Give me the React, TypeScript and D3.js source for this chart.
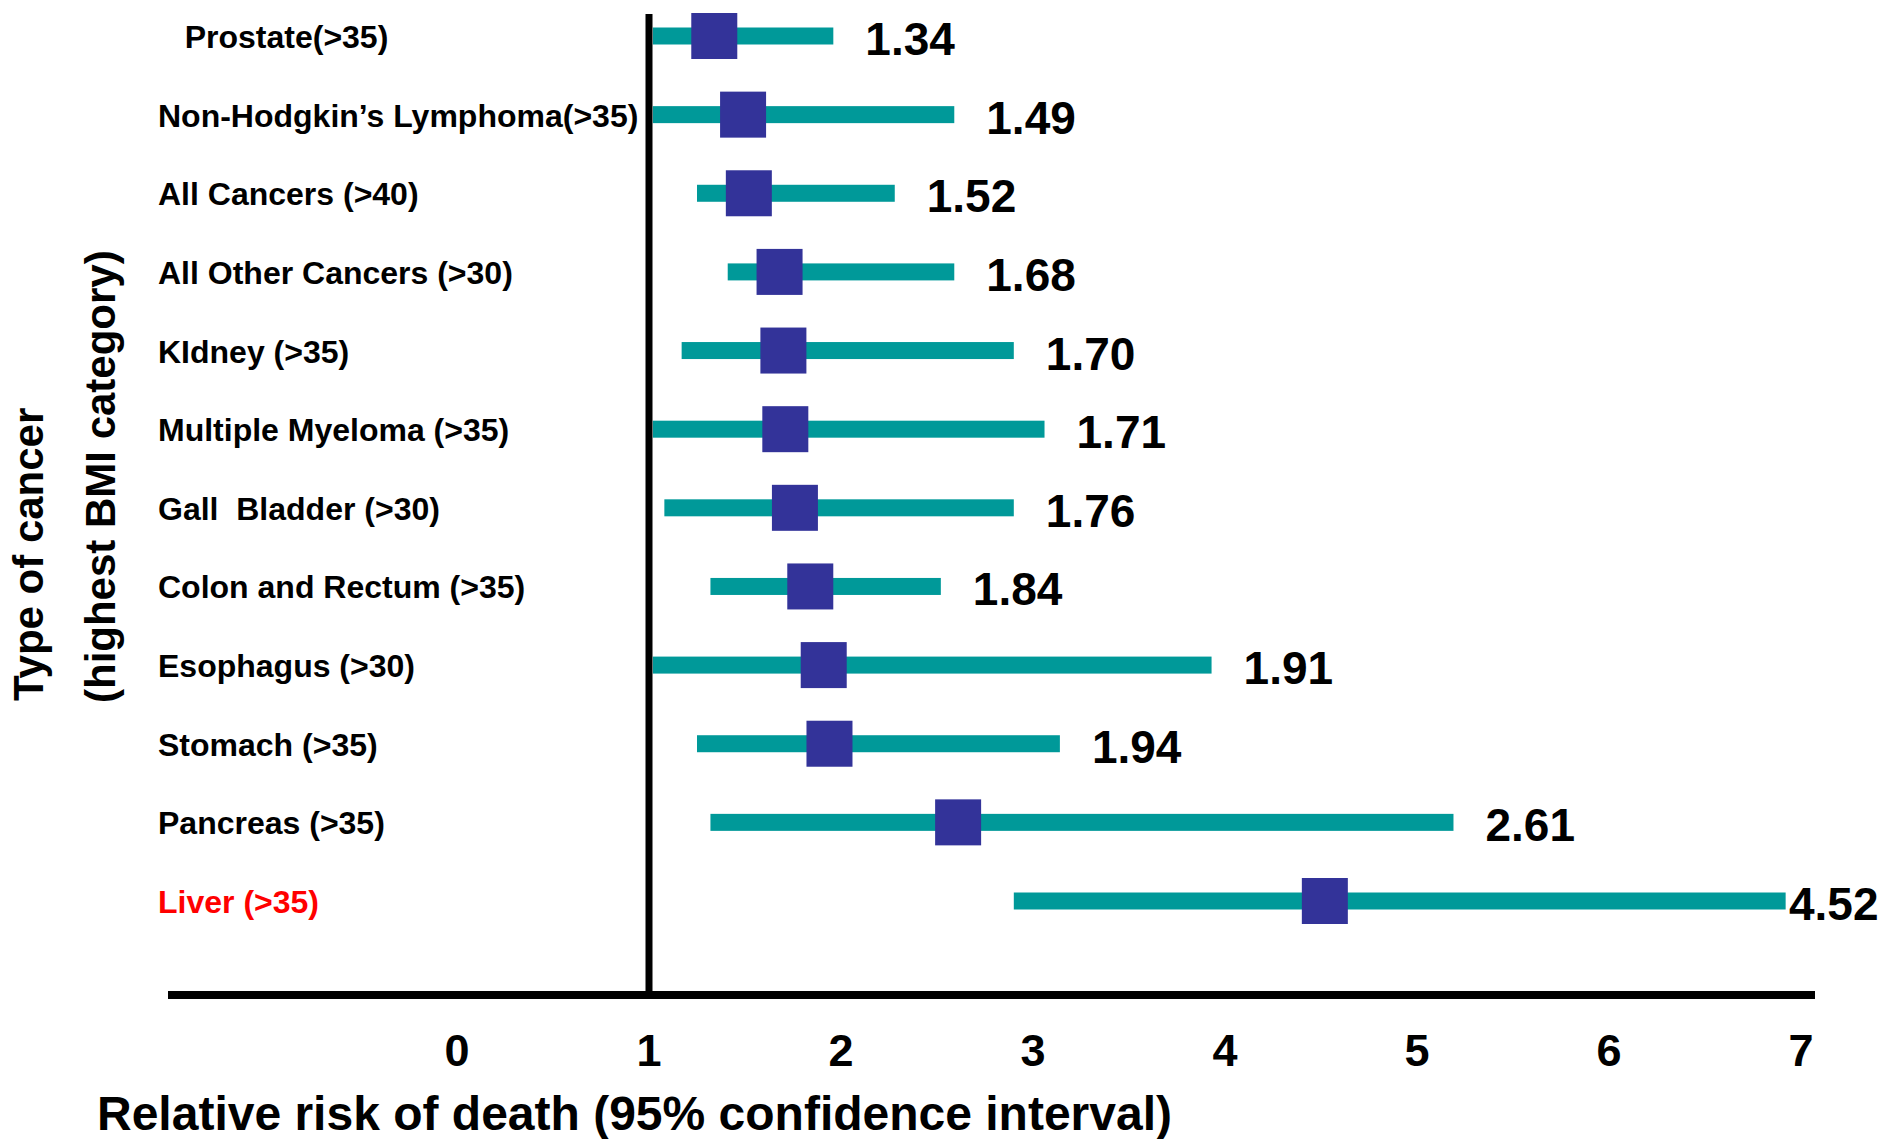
import React from "react";
import * as d3 from "d3";

const categories = [
  "   Prostate(>35)",
  "Non-Hodgkin’s Lymphoma(>35)",
  "All Cancers (>40)",
  "All Other Cancers (>30)",
  "KIdney (>35)",
  "Multiple Myeloma (>35)",
  "Gall  Bladder (>30)",
  "Colon and Rectum (>35)",
  "Esophagus (>30)",
  "Stomach (>35)",
  "Pancreas (>35)",
  "Liver (>35)",
];
const relativeRisk = [1.34, 1.49, 1.52, 1.68, 1.7, 1.71, 1.76, 1.84, 1.91, 1.94, 2.61, 4.52];
const riskLabels = ["1.34", "1.49", "1.52", "1.68", "1.70", "1.71", "1.76", "1.84", "1.91", "1.94", "2.61", "4.52"];
const ciLow = [1.02, 1.02, 1.25, 1.41, 1.17, 1.02, 1.08, 1.32, 1.02, 1.25, 1.32, 2.9];
const ciHigh = [1.96, 2.59, 2.28, 2.59, 2.9, 3.06, 2.9, 2.52, 3.93, 3.14, 5.19, 6.92];
const tickValues = [0, 1, 2, 3, 4, 5, 6, 7];
const highlighted = ["Liver (>35)"];
const referenceValue = 1;

const W = 1887;
const H = 1139;
const FONT = "'Liberation Sans', Arial, Helvetica, sans-serif";

export default function App() {
  const x = d3.scaleLinear().domain([0, 7]).range([457, 1801]);
  const y = d3.scalePoint<string>().domain(categories).range([36, 901]);

  const rows = categories.map((c, i) => ({
    cat: c,
    rr: relativeRisk[i],
    label: riskLabels[i],
    lo: ciLow[i],
    hi: ciHigh[i],
  }));

  const barH = 17;
  const marker = 46;
  const axisY = 995;

  return (
    <div style={{ position: "absolute", left: 0, top: 0 }}>
      <svg width={W} height={H} style={{ display: "block", background: "#fff" }} fontFamily={FONT}>
        {/* CI bars */}
        {rows.map((r) => (
          <rect
            key={"b" + r.cat}
            x={x(r.lo)}
            y={(y(r.cat) as number) - barH / 2}
            width={x(r.hi) - x(r.lo)}
            height={barH}
            fill="#009999"
          />
        ))}
        {/* reference line */}
        <line x1={x(referenceValue)} x2={x(referenceValue)} y1={14} y2={axisY} stroke="#000" strokeWidth={7} />
        {/* markers */}
        {rows.map((r) => (
          <rect
            key={"m" + r.cat}
            x={x(r.rr) - marker / 2}
            y={(y(r.cat) as number) - marker / 2}
            width={marker}
            height={marker}
            fill="#333399"
          />
        ))}
        {/* value labels */}
        {rows.map((r) => (
          <text
            key={"v" + r.cat}
            x={Math.min(x(r.hi) + 32, W - 98)}
            y={(y(r.cat) as number) + 19}
            fontSize={46}
            fontWeight="bold"
            fill="#000"
          >
            {r.label}
          </text>
        ))}
        {/* category labels */}
        {rows.map((r) => (
          <text
            key={"c" + r.cat}
            x={158}
            y={(y(r.cat) as number) + 12}
            fontSize={32}
            fontWeight="bold"
            fill={highlighted.includes(r.cat) ? "#ff0000" : "#000"}
            style={{ whiteSpace: "pre" }}
          >
            {r.cat}
          </text>
        ))}
        {/* x axis */}
        <line x1={168} x2={1815} y1={axisY} y2={axisY} stroke="#000" strokeWidth={8} />
        {tickValues.map((t) => (
          <text key={"t" + t} x={x(t)} y={1066} fontSize={45} fontWeight="bold" textAnchor="middle">
            {t}
          </text>
        ))}
        <text x={97} y={1130} fontSize={48} fontWeight="bold">
          Relative risk of death (95% confidence interval)
        </text>
        {/* y axis title */}
        <text transform="translate(43,701) rotate(-90)" fontSize={42} fontWeight="bold">
          Type of cancer
        </text>
        <text transform="translate(115,703) rotate(-90)" fontSize={42} fontWeight="bold">
          (highest BMI category)
        </text>
      </svg>
    </div>
  );
}
